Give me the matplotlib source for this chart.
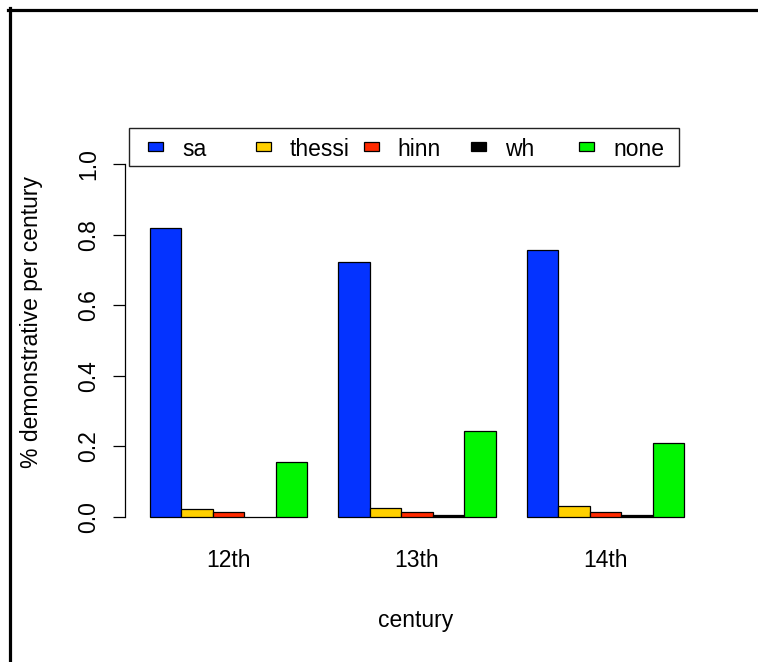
import matplotlib.pyplot as plt
from matplotlib.lines import Line2D
from matplotlib.patches import Rectangle
import numpy as np

plt.rcParams["font.family"] = ["Liberation Sans", "DejaVu Sans"]

centuries = ["12th", "13th", "14th"]
series_names = ["sa", "thessi", "hinn", "wh", "none"]
sa = [0.820, 0.722, 0.756]
thessi = [0.023, 0.026, 0.030]
hinn = [0.013, 0.013, 0.014]
wh = [0.000, 0.005, 0.005]
none = [0.155, 0.244, 0.210]
colores = ["#0433ff", "#ffd000", "#ff2a00", "#000000", "#00f500"]

W, H = 758, 662
fs = 16.5

fig = plt.figure(figsize=(W / 100, H / 100), dpi=100)
ax = fig.add_axes([128.6 / W, 1 - 531.1 / H, 576.8 / W, 403.1 / H])

## barras agrupadas estilo barplot(beside=TRUE)
valores = np.array([sa, thessi, hinn, wh, none])
n_series = len(series_names)
for g in range(len(centuries)):
    inicio = 1 + g * (n_series + 1)
    for s in range(n_series):
        ax.bar(inicio + s, valores[s, g], width=1.0, align="edge",
               color=colores[s], edgecolor="black", linewidth=0.9)

ax.set_xlim(0.32, 18.68)
ax.set_ylim(-0.04, 1.102)

for lado in ("top", "right", "bottom"):
    ax.spines[lado].set_visible(False)
ax.spines["left"].set_bounds(0, 1)
ax.spines["left"].set_position(("outward", 2.6))
ax.spines["left"].set_linewidth(0.9)

ax.set_yticks(np.arange(0, 1.01, 0.2))
ax.set_yticklabels([f"{v:.1f}" for v in np.arange(0, 1.01, 0.2)],
                   rotation=90, va="center", fontsize=fs)
ax.tick_params(axis="y", length=8.6, width=0.9, pad=9.0)

centros = [1 + g * (n_series + 1) + n_series / 2 for g in range(len(centuries))]
ax.set_xticks(centros)
ax.set_xticklabels(centuries, fontsize=fs)
ax.tick_params(axis="x", length=0, pad=13)

fig.text(416 / W, 1 - 620 / H, "century", ha="center", va="center", fontsize=fs)
fig.text(32 / W, 1 - 322 / H, "% demonstrative per century", rotation=90,
         ha="center", va="center", fontsize=fs)

## legenda horizontal desenhada na mão (colunas de largura igual, como no R)
px = lambda x, y: (x / W, 1 - y / H)
caixa = Rectangle(px(129, 166), 550 / W, 38 / H, transform=fig.transFigure,
                  facecolor="white", edgecolor="#222222", linewidth=1.0)
fig.add_artist(caixa)
for i, (nome, cor) in enumerate(zip(series_names, colores)):
    x0 = 148 + i * 107.8
    fig.add_artist(Rectangle(px(x0, 151), 15 / W, 9 / H, transform=fig.transFigure,
                             facecolor=cor, edgecolor="black", linewidth=0.9))
    fig.text(*px(x0 + 34, 149), nome, ha="left", va="center", fontsize=fs)

## moldura parcial (esquerda e topo)
fig.add_artist(Line2D([9.5 / W, 9.5 / W], [0, 1 - 8 / H], transform=fig.transFigure,
                      color="black", linewidth=2.3))
fig.add_artist(Line2D([8 / W, 1], [1 - 9.5 / H, 1 - 9.5 / H], transform=fig.transFigure,
                      color="black", linewidth=2.3))

fig.savefig("out.png", dpi=100)
